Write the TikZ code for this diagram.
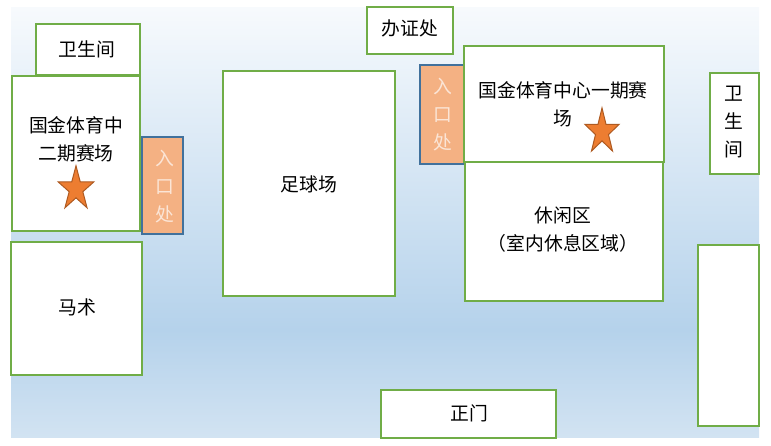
\documentclass[tikz,border=0pt]{standalone}
\usepackage{fontspec}
\newfontfamily\cjk{Noto Sans CJK SC}
\usetikzlibrary{fit}
\definecolor{grn}{HTML}{70AD47}
\definecolor{bluebd}{HTML}{41719C}
\definecolor{entfill}{HTML}{F4B183}
\definecolor{enttext}{HTML}{FBE5D6}
\definecolor{starfill}{HTML}{ED7D31}
\definecolor{stardraw}{HTML}{AE5A21}
\definecolor{ctop}{HTML}{F7FAFD}
\definecolor{cdark}{HTML}{B5D2EB}
\definecolor{cbot}{HTML}{D2E3F2}
\pgfdeclareverticalshading{bgsh}{100bp}{color(0bp)=(cbot); color(25bp)=(cbot); color(37.5bp)=(cdark); color(75bp)=(ctop); color(100bp)=(ctop)}
\tikzset{
  areabox/.style={draw=grn, line width=2.2pt, fill=white, inner sep=0pt},
  entbox/.style={draw=bluebd, line width=2.2pt, fill=entfill, inner sep=0pt},
  lbl/.style={font={\cjk\fontsize{18.8}{28}\selectfont}, align=center, inner sep=0pt, text=black},
  entlbl/.style={lbl, text=enttext},
  starst/.style={fill=starfill, draw=stardraw, line width=1pt, line join=miter}
}
\begin{document}
\begin{tikzpicture}[x=1pt, y=-1pt]
\useasboundingbox (0,0) rectangle (771,446);
\shade[shading=bgsh] (11,8) rectangle (759,437);
% entrances
\node[entbox, fit={(142,137) (183,234)}] (ent1) {};
\node[entbox, fit={(420,65) (464,164)}] (ent2) {};
% areas
\node[areabox, fit={(36,24) (140,75)}] (wc1) {};
\node[areabox, fit={(12,76) (140,231)}] (phase2) {};
\node[areabox, fit={(11,242) (142,375)}] (horse) {};
\node[areabox, fit={(223,71) (395,296)}] (football) {};
\node[areabox, fit={(367,7) (453,54)}] (cert) {};
\node[areabox, fit={(465,162) (663,301)}] (rest) {};
\node[areabox, fit={(464,46) (664,162)}] (phase1) {};
\node[areabox, fit={(710,73) (759,174)}] (wc2) {};
\node[areabox, fit={(698,245) (759,426)}] (blank) {};
\node[areabox, fit={(381,390) (556,438)}] (gate) {};
% labels
\node[lbl] (twc1) at (87,49) {卫生间};
\node[lbl] (tphase2) at (76,139) {国金体育中\\二期赛场};
\node[entlbl] (tent1) at (165,187) {入\\口\\处};
\node[lbl] (thorse) at (77,307) {马术};
\node[lbl] (tfoot) at (309,184) {足球场};
\node[lbl] (tcert) at (410,28) {办证处};
\node[entlbl] (tent2) at (443,115) {入\\口\\处};
\node[lbl] (tphase1) at (563,104) {国金体育中心一期赛\\场};
\node[lbl] (trest) at (563,229.5) {休闲区\\（室内休息区域）};
\node[lbl] (twc2) at (734,122) {卫\\生\\间};
\node[lbl] (tgate) at (469,413) {正门};
% stars
\begin{scope}[shift={(76,189)}, xscale=18.8, yscale=-23.2]
\draw[starst] (90:1) -- (126:0.382) -- (162:1) -- (198:0.382) -- (234:1) -- (270:0.382) -- (306:1) -- (342:0.382) -- (18:1) -- (54:0.382) -- cycle;
\end{scope}
\begin{scope}[shift={(602,131.8)}, xscale=17.9, yscale=-23.8]
\draw[starst] (90:1) -- (126:0.382) -- (162:1) -- (198:0.382) -- (234:1) -- (270:0.382) -- (306:1) -- (342:0.382) -- (18:1) -- (54:0.382) -- cycle;
\end{scope}
\end{tikzpicture}
\end{document}
